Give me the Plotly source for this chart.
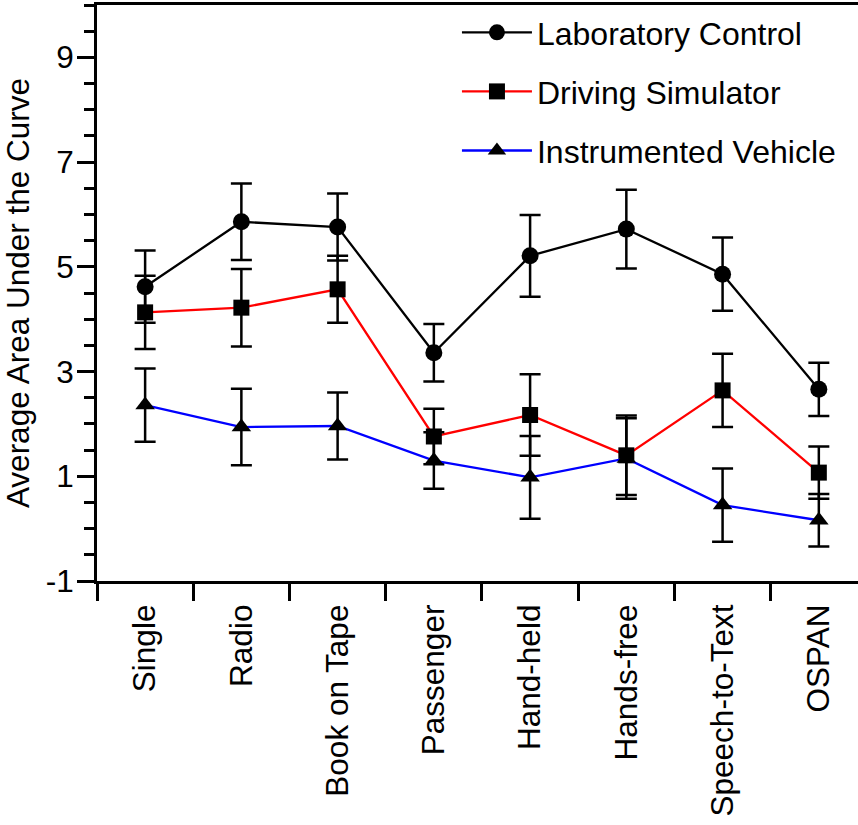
import plotly.graph_objects as go

categories = ["Single", "Radio", "Book on Tape", "Passenger", "Hand-held",
              "Hands-free", "Speech-to-Text", "OSPAN"]

lab_values = [4.62, 5.86, 5.76, 3.36, 5.21, 5.72, 4.86, 2.66]
lab_errors = [0.69, 0.73, 0.64, 0.55, 0.78, 0.75, 0.70, 0.51]

sim_values = [4.13, 4.22, 4.57, 1.76, 2.17, 1.40, 2.64, 1.07]
sim_errors = [0.70, 0.74, 0.64, 0.53, 0.78, 0.76, 0.70, 0.50]

veh_values = [2.36, 1.94, 1.96, 1.30, 0.98, 1.34, 0.45, 0.16]
veh_errors = [0.70, 0.73, 0.64, 0.54, 0.79, 0.77, 0.70, 0.50]

y_ticks = [-1, 1, 3, 5, 7, 9]
y_tick_labels = ["-1", "1", "3", "5", "7", "9"]

FONT = "Liberation Sans, Arial, Helvetica, sans-serif"

series = [
    ("Laboratory Control", lab_values, lab_errors, "black", "circle", 17),
    ("Driving Simulator", sim_values, sim_errors, "#ff0000", "square", 16),
    ("Instrumented Vehicle", veh_values, veh_errors, "#0000ff", "triangle-up", 17),
]

fig = go.Figure()
for i, (name, vals, errs, col, sym, sz) in enumerate(series):
    fig.add_trace(go.Scatter(
        x=categories, y=vals, name=name, mode="lines+markers",
        legendgroup=f"g{i}",
        line=dict(color=col, width=2.3),
        marker=dict(color="black", symbol=sym, size=sz),
        error_y=dict(type="data", array=errs, visible=True,
                     color="black", thickness=2.5, width=10.5),
    ))

fig.update_layout(
    width=858, height=825,
    margin=dict(l=97, r=0, t=5, b=244),
    paper_bgcolor="white", plot_bgcolor="white",
    font=dict(family=FONT, size=31.5, color="black"),
    showlegend=True,
    legend=dict(x=0.473, y=1.0, xanchor="left", yanchor="top",
                font=dict(size=32), tracegroupgap=14.5, itemwidth=70,
                bgcolor="rgba(0,0,0,0)"),
)

fig.update_xaxes(
    type="category", range=[-0.5, 7.407], automargin=False,
    showline=True, linecolor="black", linewidth=3, mirror=True,
    ticks="outside", ticklen=17, tickwidth=2.5, tickcolor="black",
    tickson="boundaries", tickangle=-90, ticklabelstandoff=8,
    tickfont=dict(size=31.5), showgrid=False, zeroline=False,
)

fig.update_yaxes(
    range=[-1, 10], tickvals=y_ticks, ticktext=y_tick_labels, automargin=False,
    showline=True, linecolor="black", linewidth=3,
    ticks="outside", ticklen=17, tickwidth=2.5, tickcolor="black",
    ticklabelstandoff=-3,
    minor=dict(ticks="outside", ticklen=10, tickwidth=2.5, tickcolor="black",
               tick0=-1, dtick=0.5),
    tickfont=dict(size=31.5), showgrid=False, zeroline=False,
    title=dict(text="Average Area Under the Curve", font=dict(size=31.5)),
)

fig.write_html("out.html", config={"displayModeBar": False},
               post_script="document.body.style.margin='0';")
